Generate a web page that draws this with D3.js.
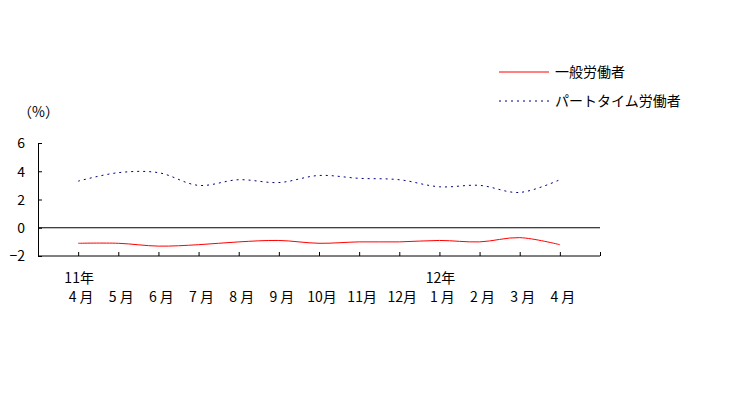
<!DOCTYPE html>
<html>
<head>
<meta charset="utf-8">
<script src="https://cdn.jsdelivr.net/npm/d3@7"></script>
<style>
  body { margin: 0; background: #fff; }
  text { font-family: "Noto Sans CJK JP", sans-serif; font-size: 14px; fill: #000; }
</style>
</head>
<body>
<svg width="742" height="399"></svg>
<script>
const months = ["4 月", "5 月", "6 月", "7 月", "8 月", "9 月", "10月", "11月", "12月", "1 月", "2 月", "3 月", "4 月"];
const yearLabels = [{ i: 0, text: "11年" }, { i: 9, text: "12年" }];
const general = [-1.1, -1.1, -1.3, -1.2, -1.0, -0.9, -1.1, -1.0, -1.0, -0.9, -1.0, -0.7, -1.2];
const parttime = [3.3, 3.9, 3.9, 3.0, 3.4, 3.2, 3.7, 3.5, 3.4, 2.9, 3.0, 2.5, 3.4];
const yTicks = [-2, 0, 2, 4, 6];

const svg = d3.select("svg");

// plot area
const plotLeft = 38, plotRight = 600, plotTop = 143, plotBottom = 256;

const x = d3.scaleLinear().domain([-1, 13]).range([plotLeft, plotRight]);
const y = d3.scaleLinear().domain([-2, 6]).range([plotBottom, plotTop]);

// y axis
const yAxis = svg.append("g")
    .attr("transform", `translate(${plotLeft},0)`)
    .call(d3.axisRight(y).tickValues(yTicks).tickSize(4).tickFormat(d => d < 0 ? "\u2212" + Math.abs(d) : d));
yAxis.select(".domain").attr("stroke", "#000");
yAxis.selectAll(".tick line").attr("stroke", "#000");
yAxis.selectAll(".tick text")
    .attr("x", -13)
    .attr("text-anchor", "end")
    .attr("dy", "0.35em")
    .style("font-size", "14px");

// x axis (ticks pointing up)
const xAxis = svg.append("g")
    .attr("transform", `translate(0,${plotBottom})`)
    .call(d3.axisTop(x).tickValues(d3.range(0, 14)).tickSize(4).tickFormat(""));
xAxis.select(".domain").attr("stroke", "#000").attr("d", `M${plotLeft},0H${plotRight}`);
xAxis.selectAll(".tick line").attr("stroke", "#000");

// zero line
svg.append("line")
    .attr("x1", plotLeft).attr("x2", plotRight)
    .attr("y1", y(0)).attr("y2", y(0))
    .attr("stroke", "#000");

// month labels
svg.append("g").selectAll("text")
    .data(months)
    .join("text")
    .attr("x", (d, i) => x(i) + 3)
    .attr("y", 302)
    .attr("text-anchor", "middle")
    .text(d => d);

svg.append("g").selectAll("text")
    .data(yearLabels)
    .join("text")
    .attr("x", d => x(d.i) + 1)
    .attr("y", 283)
    .attr("text-anchor", "middle")
    .text(d => d.text);

svg.append("text").attr("x", 18).attr("y", 117).text("（%）");

// series
const line = d3.line()
    .x((d, i) => x(i))
    .y(d => y(d))
    .curve(d3.curveCatmullRom.alpha(0.5));

svg.append("path")
    .datum(parttime)
    .attr("d", line)
    .attr("fill", "none")
    .attr("stroke", "#000080")
    .attr("stroke-dasharray", "2,4");

svg.append("path")
    .datum(general)
    .attr("d", line)
    .attr("fill", "none")
    .attr("stroke", "#ff0000");

// legend
const legend = [
    { name: "一般労働者", color: "#ff0000", dash: null, y: 72 },
    { name: "パートタイム労働者", color: "#000080", dash: "2,4", y: 101 }
];
const lg = svg.append("g").selectAll("g").data(legend).join("g");
lg.append("line")
    .attr("x1", 499).attr("x2", 549)
    .attr("y1", d => d.y).attr("y2", d => d.y)
    .attr("stroke", d => d.color)
    .attr("stroke-dasharray", d => d.dash);
lg.append("text")
    .attr("x", 555)
    .attr("y", d => d.y)
    .attr("dy", "0.35em")
    .text(d => d.name);
</script>
</body>
</html>
